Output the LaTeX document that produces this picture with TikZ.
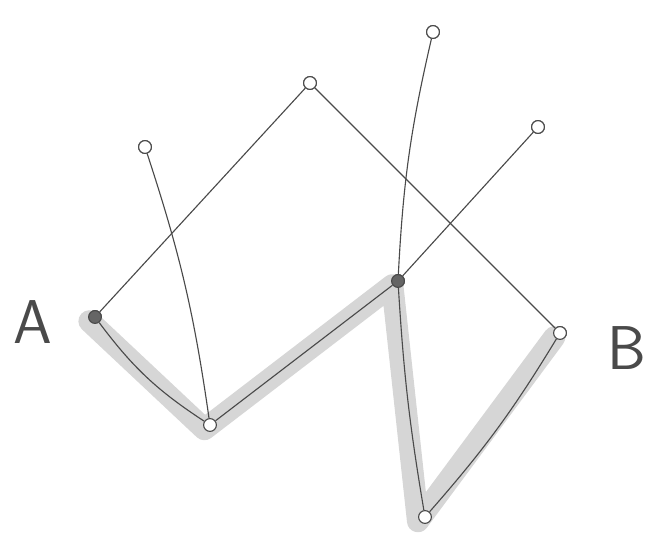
\documentclass[tikz,border=0pt]{standalone}
\usepackage{tikz}
\usetikzlibrary{positioning}
\definecolor{ink}{HTML}{4A4A4A}
\definecolor{shade}{HTML}{D6D6D6}

\begin{document}
\begin{tikzpicture}[
    x=0.025cm, y=-0.025cm,
    vtx/.style={circle, draw=ink, thick, inner sep=0pt, minimum size=3.2mm, fill=white},
    hub/.style={vtx, fill=ink!85},
    edge/.style={draw=ink, thick},
    path hl/.style={draw=shade, line width=5.5mm, line cap=round, line join=round},
    lbl/.style={font=\sffamily\fontsize{44}{46}\selectfont, text=ink}
]
    \useasboundingbox (0,0) rectangle (653,544);
    \node[hub] (a) at (95,317) {};
    \node[vtx] (top) at (310,83) {};
    \node[vtx] (lt) at (145,147) {};
    \node[vtx] (bl) at (210,425) {};
    \node[hub] (c) at (398,281) {};
    \node[vtx] (tr) at (433,32) {};
    \node[vtx] (rt) at (538,127) {};
    \node[vtx] (b) at (560,333) {};
    \node[vtx] (bot) at (425,517) {};
    \node[lbl] (la) at (33,322) {A};
    \node[lbl] (lb) at (627,348) {B};

    % shaded path
    \draw[path hl] ([xshift=-4pt,yshift=-3pt]a.center) -- ([xshift=-4pt,yshift=-3pt]bl.center)
        -- ([xshift=-4pt,yshift=-3pt]c.center) -- ([xshift=-5pt,yshift=-3pt]bot.center)
        -- ([xshift=-4pt,yshift=-3pt]b.center);

    \draw[edge] (a) -- (top);
    \draw[edge] (top) -- (b);
    \draw[edge] (a) to[bend right=10] (bl);
    \draw[edge] (lt) to[bend left=5] (bl);
    \draw[edge] (bl) -- (c);
    \draw[edge] (c) to[bend left=5] (tr);
    \draw[edge] (c) -- (rt);
    \draw[edge] (c) to[bend right=3] (bot);
    \draw[edge] (bot) to[bend right=5] (b);

    % redraw vertices on top
    \foreach \v/\s in {a/hub,top/vtx,lt/vtx,bl/vtx,c/hub,tr/vtx,rt/vtx,b/vtx,bot/vtx}
        \node[\s] at (\v) {};
\end{tikzpicture}
\end{document}
